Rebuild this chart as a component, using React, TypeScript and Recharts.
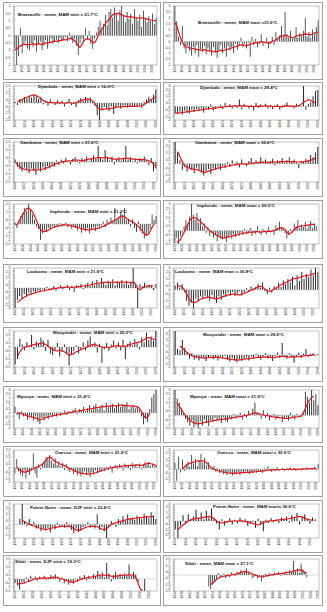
import React from 'react';
import { ComposedChart, Bar, Line, XAxis, YAxis, ReferenceLine, ReferenceArea } from 'recharts';

// ---------- data: anomaly bars and moving average (red) per station ----------
const brazMinStart = 1932;
const brazMinBars = [-0.9,-2.0,-1.4,0.5,-1.2,-0.6,-0.4,-0.9,-1.0,-0.5, -0.8,-0.3,-1.1,-0.6,-0.4,-1.0,-0.7,-0.3,-0.9,-0.5, -0.2,-0.6,-0.4,-0.3,-0.5,-0.2,-0.4,-0.3,-0.1,-0.4, 0.2,-0.3,-0.5,-0.2,-0.7,-1.3,-0.5,-0.2,-0.4,0.5, -0.3,0.3,-0.6,-0.9,-0.2,0.2,0.6,1.0,0.5,0.8, 1.4,0.7,1.6,1.8,1.2,1.9,1.5,1.0,1.7,2.0, 1.3,0.9,1.6,1.1,1.5,0.8,1.8,1.2,1.0,1.4, 0.6,1.7,1.2,0.9,1.3,1.0,1.5,0.8,1.2];
const brazMinAvg = [-1.0,-0.9,-0.8,-0.7,-0.65,-0.6,-0.6,-0.65,-0.6,-0.6, -0.55,-0.6,-0.6,-0.55,-0.6,-0.6,-0.55,-0.5,-0.5,-0.5, -0.45,-0.4,-0.4,-0.4,-0.35,-0.35,-0.3,-0.3,-0.3,-0.25, -0.2,-0.2,-0.25,-0.35,-0.5,-0.7,-0.8,-0.6,-0.4,-0.25, -0.2,-0.25,-0.35,-0.45,-0.5,-0.3,0.0,0.25,0.45,0.6, 0.8,0.95,1.1,1.25,1.4,1.45,1.5,1.5,1.45,1.4, 1.35,1.3,1.3,1.25,1.3,1.25,1.2,1.2,1.2,1.15, 1.2,1.2,1.15,1.1,1.1,1.05,1.05,1.0,1.0];

const brazMaxStart = 1932;
const brazMaxBars = [3.0,1.7,0.4,-0.3,1.3,-0.6,-1.0,-0.4,-0.8,-1.2, -0.5,-1.0,-0.3,-1.3,-0.7,-0.9,-0.4,-1.1,-0.6,-0.8, -1.2,-0.5,-0.9,-1.4,-0.7,-0.3,-1.0,-0.6,-1.3,-0.4, -0.8,-0.5,-1.0,-0.2,-0.7,-0.4,0.3,-0.5,-0.2,-0.6, -0.1,-1.3,0.4,-0.3,0.2,-0.5,-0.2,0.6,-0.4,-0.1, 0.3,-0.6,-0.2,0.4,-0.3,0.8,0.2,0.5,1.3,0.4, 2.5,0.6,0.3,0.9,0.2,0.4,1.2,0.3,0.7,0.5, 0.9,2.0,0.4,0.8,0.3,1.0,0.6,1.2,1.8];
const brazMaxAvg = [1.6,1.3,0.8,0.3,-0.1,-0.3,-0.45,-0.5,-0.55,-0.6, -0.6,-0.65,-0.7,-0.7,-0.75,-0.75,-0.7,-0.75,-0.8,-0.8, -0.85,-0.85,-0.9,-0.85,-0.8,-0.75,-0.8,-0.75,-0.7,-0.65, -0.6,-0.55,-0.5,-0.45,-0.4,-0.35,-0.3,-0.3,-0.35,-0.4, -0.3,-0.25,-0.2,-0.15,-0.1,-0.15,-0.1,0.0,-0.05,-0.1, -0.1,-0.15,-0.1,0.0,0.05,0.15,0.25,0.35,0.5,0.45, 0.55,0.5,0.4,0.35,0.3,0.35,0.45,0.5,0.5,0.55, 0.6,0.65,0.6,0.6,0.55,0.65,0.7,0.75,0.8];

const djaMinStart = 1950;
const djaMinBars = [0.2,-0.3,0.6,0.4,0.9,0.7,1.1,0.8,1.3,1.0, 0.6,0.9,-0.2,0.3,-0.4,0.5,0.1,-0.3,0.4,-0.2, 0.3,-0.5,0.2,0.6,-0.3,0.1,-0.6,0.4,0.7,0.3, 0.9,0.5,0.8,0.2,-0.4,-1.8,-2.5,-1.0,-0.6,-0.9, -1.2,-0.5,-1.6,-0.7,-0.4,-0.8,-0.6,-0.3,-0.7,-0.5, -0.4,-0.6,-0.5,-0.3,-0.7,0.2,0.5,0.9,0.6,1.2, 2.0];
const djaMinAvg = [null,0.2,0.35,0.5,0.7,0.85,1.0,1.1,1.2,1.1, 0.9,0.6,0.35,0.2,0.1,0.05,0.1,0.0,0.05,0.0, 0.05,-0.05,0.0,0.1,0.0,-0.05,0.05,0.2,0.35,0.45, 0.55,0.6,0.5,0.3,-0.1,-0.6,-0.9,-1.0,-0.9,-0.85, -0.9,-0.8,-0.75,-0.6,-0.55,-0.6,-0.55,-0.5,-0.5,-0.5, -0.5,-0.5,-0.45,-0.45,-0.4,-0.2,0.0,0.3,0.5,0.7, 0.9];

const djaMaxStart = 1950;
const djaMaxBars = [-1.0,-1.1,-0.8,-1.2,-0.6,-0.9,-1.0,-0.5,-0.8,-0.4, -0.7,-0.3,-0.9,-0.2,-0.5,0.3,-0.6,-0.3,-0.2,0.2, -0.4,0.5,-0.1,0.3,-0.3,0.2,-0.2,1.0,-0.4,0.4, 0.1,-0.3,0.2,-0.6,0.5,-0.2,0.3,-0.1,0.4,-0.3, 0.2,-0.4,0.1,0.3,-0.5,-0.2,0.2,0.6,-0.1,0.1, -0.3,0.4,0.2,-0.1,3.0,-0.5,0.4,0.6,1.5,2.3, 2.4];
const djaMaxAvg = [-1.0,-1.0,-0.95,-0.9,-0.85,-0.8,-0.75,-0.7,-0.65,-0.6, -0.55,-0.5,-0.45,-0.4,-0.35,-0.3,-0.3,-0.25,-0.2,-0.15, -0.1,-0.05,0.0,0.0,0.05,0.1,0.05,0.15,0.1,0.05, 0.05,0.0,0.0,-0.05,0.0,0.05,0.0,0.05,0.1,0.05, 0.0,-0.05,0.0,0.05,-0.05,0.0,0.05,0.1,0.05,0.05, 0.0,0.05,0.1,0.3,0.6,0.8,1.0,0.9,0.6,0.5, null];

const gamMinStart = 1948;
const gamMinBars = [0.3,-0.6,-0.9,-1.2,-0.7,-1.0,-1.4,-0.8,-1.1,-1.6, -0.9,-1.2,-0.7,-1.0,-0.5,-0.8,-0.3,-0.6,0.2,-0.4, 0.3,-0.2,0.5,0.1,-0.3,0.4,0.6,0.2,-0.2,0.5, 0.3,0.7,0.1,0.5,0.8,0.4,2.0,0.6,0.3,1.5, 0.5,0.2,0.7,-0.3,0.4,0.6,0.2,0.5,2.0,0.3, 0.6,0.1,0.4,-0.2,0.5,0.3,0.7,0.2,-0.4,0.5, -1.2,-0.8];
const gamMinAvg = [0.0,-0.3,-0.6,-0.8,-0.9,-1.0,-1.05,-1.0,-0.95,-1.0, -1.0,-0.95,-0.9,-0.8,-0.7,-0.6,-0.45,-0.3,-0.2,-0.1, 0.0,0.05,0.1,0.1,0.15,0.2,0.25,0.25,0.2,0.15, 0.2,0.3,0.35,0.4,0.45,0.5,0.55,0.55,0.5,0.6, 0.55,0.45,0.4,0.35,0.35,0.4,0.4,0.45,0.5,0.45, 0.4,0.35,0.35,0.3,0.3,0.3,0.3,0.25,0.15,0.0, -0.3,-0.5];

const gamMaxStart = 1949;
const gamMaxBars = [3.0,1.6,0.5,-0.8,-0.4,-1.1,-0.6,-0.9,-1.3,-0.5, -0.8,-1.2,-1.6,-1.0,-0.7,-1.4,-0.6,-0.8,-0.4,-0.9, -0.3,-0.6,0.2,-0.4,0.5,-0.2,0.3,-0.5,0.6,0.1, -0.3,0.4,0.8,-0.1,0.5,0.2,0.9,0.3,0.6,0.1, 0.4,0.7,-0.2,0.5,0.3,0.8,0.2,0.5,0.9,0.3, 0.6,0.2,-0.6,0.4,0.3,0.7,0.5,1.2,0.9,1.6, 2.3];
const gamMaxAvg = [null,1.7,1.0,0.3,-0.3,-0.5,-0.6,-0.7,-0.75,-0.8, -0.9,-1.0,-1.2,-1.15,-1.0,-0.9,-0.8,-0.7,-0.6,-0.5, -0.45,-0.4,-0.3,-0.25,-0.2,-0.15,-0.1,-0.05,0.0,0.0, -0.05,0.0,0.1,0.1,0.15,0.2,0.2,0.25,0.2,0.2, 0.2,0.25,0.2,0.25,0.3,0.3,0.3,0.35,0.3,0.3, 0.3,0.25,0.25,0.3,0.3,0.35,0.4,0.5,0.6,0.8, null];

const impMinStart = 1932;
const impMinBars = [0.2,-0.5,0.4,1.0,1.4,2.0,1.6,2.5,1.8,1.2, 0.5,-0.3,-0.6,-2.0,-1.2,-0.8,-1.0,-0.5,-0.7,-0.3, -0.5,-0.2,-0.4,0.1,-0.3,-0.2,0.2,-0.4,-0.1,-0.6, -0.3,-0.5,-0.8,-0.4,-1.1,-0.6,-0.9,-0.5,-1.2,-0.7, -0.4,-0.9,-0.3,-0.6,-0.2,0.3,-0.4,0.5,0.2,0.8, 0.4,2.0,0.6,0.9,1.5,1.2,2.0,0.5,0.7,-0.3, 0.6,-0.5,-1.0,0.3,-0.8,-1.2,-1.8,-1.5,-1.1,-0.6, 1.2,0.5,1.0];
const impMinAvg = [0.0,-0.1,0.3,0.8,1.2,1.6,1.9,2.0,1.8,1.5, 1.0,0.4,-0.2,-0.7,-0.9,-0.95,-0.9,-0.8,-0.6,-0.5, -0.4,-0.3,-0.25,-0.2,-0.15,-0.1,-0.1,-0.15,-0.2,-0.25, -0.3,-0.35,-0.45,-0.5,-0.6,-0.65,-0.7,-0.7,-0.75,-0.7, -0.65,-0.6,-0.55,-0.5,-0.4,-0.3,-0.2,-0.05,0.1,0.25, 0.35,0.5,0.6,0.8,0.95,1.0,0.9,0.7,0.5,0.35, 0.3,0.1,-0.1,-0.3,-0.6,-0.9,-1.2,-1.4,-1.3,-0.9, -0.4,0.0,null];

const impMaxStart = 1932;
const impMaxBars = [-1.4,-0.8,-1.5,-0.6,-0.3,0.5,1.2,0.8,1.6,3.0, 1.8,1.2,2.0,0.9,1.4,0.5,0.8,-0.3,0.4,-0.6, -0.2,-0.8,-0.5,-1.2,-0.6,-0.9,-1.0,-0.7,-1.3,-0.8, -0.5,-0.9,-0.4,-0.7,-0.3,-0.6,-0.2,-0.5,0.2,-0.4, -0.3,0.3,-0.6,-0.2,-0.4,0.5,-0.3,-0.5,0.2,-0.1, -0.4,0.4,-0.2,0.1,-0.5,0.6,0.3,1.0,0.4,0.2, -0.3,-0.9,-0.5,0.2,-0.2,0.8,0.5,1.2,0.3,0.7, 0.4,1.0,0.2,0.6,1.1,0.3,0.8,0.5,null];
const impMaxAvg = [null,-1.3,-1.2,-1.0,-0.6,-0.2,0.3,0.7,1.1,1.4, 1.5,1.45,1.35,1.2,1.0,0.8,0.6,0.4,0.2,0.0, -0.15,-0.3,-0.45,-0.55,-0.65,-0.75,-0.8,-0.8,-0.75,-0.7, -0.65,-0.6,-0.55,-0.5,-0.45,-0.4,-0.35,-0.3,-0.25,-0.25, -0.2,-0.15,-0.2,-0.15,-0.1,-0.1,-0.15,-0.2,-0.1,-0.1, -0.1,-0.05,-0.1,-0.05,0.0,0.1,0.2,0.3,0.35,0.3, 0.1,-0.2,-0.4,-0.3,-0.1,0.1,0.3,0.45,0.5,0.5, 0.55,0.6,0.6,0.65,0.7,0.7,0.7,null,null];

const loubMinStart = 1947;
const loubMinBars = [-3.0,-1.8,-1.2,-1.6,-0.9,-1.3,-0.7,-1.0,-0.5,-0.8, -0.4,-0.6,-0.2,-0.5,0.2,-0.3,-0.1,0.3,-0.4,0.1, 0.4,-0.2,0.2,0.5,-0.3,0.3,-0.6,0.4,0.1,0.6, -0.2,0.5,0.8,0.3,1.0,0.4,1.2,0.6,1.5,0.9, 0.5,1.1,0.7,1.3,0.4,1.0,0.8,1.2,0.6,1.1, 0.5,0.9,3.0,0.4,-3.0,0.6,0.3,0.8,0.2,0.5, 0.4,-0.3,0.6];
const loubMinAvg = [null,-2.2,-1.9,-1.6,-1.4,-1.2,-1.0,-0.9,-0.8,-0.7, -0.6,-0.5,-0.45,-0.4,-0.3,-0.25,-0.2,-0.1,-0.05,0.0, 0.05,0.05,0.1,0.15,0.1,0.15,0.1,0.15,0.2,0.25, 0.3,0.35,0.4,0.45,0.55,0.6,0.7,0.75,0.8,0.85, 0.85,0.9,0.85,0.9,0.85,0.9,0.85,0.9,0.85,0.9, 0.85,0.8,0.9,0.6,0.0,-0.3,0.0,0.2,0.3,0.35, 0.3,0.3,null];

const loubMaxStart = 1947;
const loubMaxBars = [0.6,1.0,0.3,0.8,-0.3,-1.5,-2.2,-1.8,-2.5,-1.2, -1.6,-0.9,-1.3,-0.8,-1.1,-1.5,-0.7,-1.2,-1.8,-0.9, -1.4,-0.6,-1.0,-0.4,-0.8,-0.3,-0.9,-0.5,-0.2,-0.8, -0.4,0.2,-0.3,0.5,-0.1,0.4,0.8,0.3,1.0,-0.2, -0.6,0.3,-0.4,0.5,0.2,1.0,0.4,1.3,0.8,1.5, 1.0,1.8,0.6,2.0,1.2,2.5,1.5,2.2,1.8,2.8, 2.0,3.0,2.4];
const loubMaxAvg = [null,0.6,0.5,0.4,0.0,-0.6,-1.2,-1.6,-1.8,-1.7, -1.5,-1.3,-1.2,-1.1,-1.0,-1.05,-1.1,-1.2,-1.25,-1.15, -1.0,-0.9,-0.8,-0.7,-0.65,-0.6,-0.6,-0.65,-0.7,-0.6, -0.5,-0.35,-0.2,-0.05,0.1,0.25,0.4,0.5,0.35,0.1, -0.1,-0.2,-0.1,0.1,0.3,0.5,0.7,0.85,1.0,1.15, 1.3,1.45,1.55,1.6,1.7,1.8,1.9,1.95,2.0,2.1, 2.2,2.3,null];

const mouMinStart = 1949;
const mouMinBars = [-2.2,-1.5,1.0,0.3,-0.4,0.6,0.2,1.5,-0.3,0.7, 0.4,1.2,0.8,-0.5,0.9,-0.8,-1.0,-0.4,0.5,-1.2, -0.6,0.3,-0.9,-2.3,-1.0,-0.5,0.2,-0.8,-0.3,0.6, -0.4,0.8,1.3,0.2,0.6,-0.7,0.4,-2.0,-0.3,0.5, -0.5,0.3,0.8,-0.2,0.6,-0.4,0.9,-1.5,0.4,0.7, 0.2,1.0,0.5,-0.3,1.2,0.6,1.8,0.9,1.3,0.8, 2.0];
const mouMinAvg = [null,-1.2,-0.6,-0.2,0.0,0.05,0.1,0.2,0.3,0.35, 0.4,0.5,0.45,0.3,0.1,-0.1,-0.3,-0.45,-0.5,-0.4, -0.5,-0.6,-0.8,-1.0,-0.95,-0.8,-0.6,-0.5,-0.35,-0.2, -0.1,0.05,0.2,0.3,0.3,0.2,0.1,0.0,-0.05,0.0, -0.1,0.0,0.1,0.15,0.2,0.1,0.05,0.1,0.2,0.3, 0.4,0.5,0.55,0.6,0.75,0.9,1.1,1.2,1.1,1.0, 0.9];

const mouMaxStart = 1948;
const mouMaxBars = [4.0,1.0,0.8,2.5,1.2,0.5,-0.6,0.3,-0.8,-0.4, -0.9,-0.3,-0.6,-1.0,-0.5,-0.2,-0.7,-0.4,-0.9,-0.3, -0.6,-0.2,-0.8,-1.1,-0.5,-0.9,-1.2,-0.7,-1.0,-0.6, -0.4,-0.9,-0.3,-0.6,0.2,-0.5,-0.8,-0.3,0.3,-0.6, -0.4,-1.0,-0.2,0.4,-0.5,2.0,-0.3,-0.6,0.3,-0.4, -1.3,-0.2,0.4,-0.5,0.2,1.0,-0.3,0.2,0.3,-0.1, 0.2];
const mouMaxAvg = [null,null,1.5,1.2,0.8,0.4,0.1,-0.1,-0.25,-0.35, -0.4,-0.45,-0.5,-0.5,-0.45,-0.4,-0.4,-0.35,-0.4,-0.45, -0.5,-0.55,-0.6,-0.7,-0.75,-0.8,-0.85,-0.8,-0.75,-0.7, -0.65,-0.6,-0.55,-0.5,-0.45,-0.4,-0.4,-0.35,-0.3,-0.35, -0.4,-0.45,-0.4,-0.3,-0.25,-0.2,-0.25,-0.3,-0.35,-0.3, -0.3,-0.3,-0.25,-0.2,-0.15,-0.1,-0.1,-0.05,0.0,0.0, null];

const mpoMinStart = 1941;
const mpoMinBars = [0.8,-0.3,-0.8,0.2,-0.5,-0.2,-0.9,-0.4,-0.6,-1.0, -0.5,-1.2,-1.5,-0.7,-1.0,-0.4,-0.8,-0.3,-0.6,-0.2, -0.5,0.1,-0.4,-0.2,0.3,-0.3,0.2,-0.1,0.4,0.6, -0.2,0.5,0.3,0.8,0.2,0.6,1.0,0.4,0.9,1.2, 0.5,0.8,1.1,0.3,1.3,0.7,0.9,1.2,0.6,1.0, 1.3,0.8,1.1,0.9,1.4,0.5,0.8,1.0,0.6,0.9, 0.4,-0.5,-1.5,-0.8,-1.2,0.5,2.0,2.5,3.0];
const mpoMinAvg = [null,0.0,-0.05,-0.1,-0.2,-0.3,-0.4,-0.5,-0.55,-0.6, -0.7,-0.8,-0.9,-0.85,-0.75,-0.6,-0.5,-0.45,-0.4,-0.35, -0.3,-0.25,-0.2,-0.15,-0.1,-0.05,0.0,0.05,0.1,0.15, 0.2,0.25,0.3,0.35,0.4,0.45,0.5,0.55,0.6,0.65, 0.7,0.75,0.8,0.8,0.85,0.85,0.9,0.9,0.9,0.95, 0.95,1.0,1.0,0.95,0.95,0.9,0.9,0.9,0.85,0.8, 0.6,0.2,-0.3,-0.7,-0.6,0.0,null,null,null];

const mpoMaxStart = 1941;
const mpoMaxBars = [3.0,2.0,1.5,0.8,0.3,-0.4,-0.8,-1.2,-0.6,-1.4, -1.0,-1.5,-0.7,-1.2,-0.5,-0.9,-1.3,-0.6,-0.8,-0.3, -0.7,-0.4,-0.9,-0.2,-0.6,-0.8,-0.3,-0.5,0.2,-0.4, -0.2,0.3,-0.5,0.2,-0.3,0.5,0.1,0.8,1.5,0.4, 0.2,-0.4,0.6,-0.3,0.3,-0.6,-0.2,0.2,-0.5,-0.3, 0.1,-0.8,-0.4,-0.2,-0.6,0.3,-0.3,-0.5,0.2,-0.2, 0.1,0.5,2.8,2.2,1.5,3.0,1.8,2.5,1.2];
const mpoMaxAvg = [null,1.5,1.1,0.7,0.3,0.0,-0.3,-0.55,-0.75,-0.9, -1.0,-1.0,-0.95,-0.9,-0.85,-0.8,-0.75,-0.7,-0.65,-0.6, -0.55,-0.5,-0.5,-0.45,-0.45,-0.4,-0.35,-0.3,-0.25,-0.2, -0.2,-0.15,-0.1,-0.05,0.0,0.05,0.15,0.25,0.3,0.25, 0.2,0.1,0.05,0.0,-0.05,-0.1,-0.15,-0.2,-0.25,-0.25, -0.3,-0.3,-0.35,-0.35,-0.3,-0.3,-0.25,-0.2,-0.2,-0.15, -0.1,0.2,0.8,1.4,1.8,2.1,2.3,null,null];

const oueMinStart = 1932;
const oueMinBars = [-0.8,1.2,-0.5,-0.9,-1.2,-0.4,-1.5,-0.6,-1.0,-0.3, 2.0,-0.8,-1.4,0.5,-0.2,0.6,0.8,1.5,1.2,1.8, 1.0,0.6,1.3,0.4,0.9,0.2,0.7,-0.3,0.5,-0.4, -0.6,-0.2,-0.9,-0.5,-1.1,-0.7,-1.2,-0.8,-0.5,-1.0, -0.7,-1.3,-0.6,-0.9,-0.4,-0.8,-0.3,-0.6,-0.2,-0.5, 0.1,-0.3,0.3,-0.7,0.2,0.4,-0.2,0.5,0.3,-0.4, 0.6,0.2,0.4,-0.3,0.7,0.3,0.5,0.1,0.6,-0.2, 0.4,0.9,0.5,0.8,0.3,0.6,0.2,0.4];
const oueMinAvg = [null,0.0,-0.2,-0.4,-0.5,-0.6,-0.6,-0.5,-0.4,-0.3, -0.15,0.0,0.1,0.2,0.35,0.5,0.8,1.1,1.4,1.5, 1.35,1.1,0.9,0.75,0.6,0.5,0.4,0.3,0.2,0.05, -0.1,-0.25,-0.4,-0.5,-0.6,-0.7,-0.75,-0.8,-0.85,-0.85, -0.9,-0.85,-0.8,-0.75,-0.7,-0.6,-0.5,-0.4,-0.35,-0.25, -0.15,-0.1,0.0,0.0,0.05,0.1,0.15,0.2,0.2,0.25, 0.3,0.3,0.3,0.35,0.35,0.35,0.4,0.4,0.35,0.35, 0.4,0.5,0.6,0.65,0.6,0.5,0.4,0.3];

const oueMaxStart = 1932;
const oueMaxBars = [1.0,-1.8,2.0,-0.5,1.5,-0.3,0.8,1.2,0.4,2.2, 0.9,1.6,0.5,1.3,2.4,1.0,1.8,0.6,1.1,0.3, -0.2,0.5,-0.4,0.2,-0.6,-0.3,-0.8,-0.5,-0.9,-0.4, -0.7,-1.0,-0.6,-0.8,-0.5,-0.9,-0.4,-0.7,-0.3,-0.6, -0.8,-0.4,-0.6,-0.3,-0.5,-0.2,-0.4,-0.6,0.2,-0.3, 0.5,-0.2,-0.4,0.1,-0.3,0.3,-0.2,-0.1,0.2,-0.3, 0.1,-0.2,0.3,-0.1,0.2,-0.3,0.1,0.0,-0.2,0.2, 0.0,0.3,-0.1,0.2,0.1,0.4,-0.2,0.8];
const oueMaxAvg = [null,null,null,null,0.0,0.3,0.6,0.8,0.9,1.0, 1.1,1.2,1.25,1.3,1.3,1.3,1.2,1.0,0.7,0.4, 0.2,0.0,-0.1,-0.2,-0.3,-0.4,-0.45,-0.5,-0.55,-0.6, -0.6,-0.65,-0.65,-0.6,-0.6,-0.55,-0.55,-0.5,-0.5,-0.5, -0.5,-0.45,-0.45,-0.4,-0.4,-0.35,-0.3,-0.3,-0.25,-0.2, -0.15,-0.15,-0.1,-0.1,-0.1,-0.05,-0.1,-0.05,-0.05,-0.05, -0.05,0.0,0.0,-0.05,0.0,0.0,-0.05,0.0,0.0,0.0, 0.05,0.05,0.05,0.1,0.1,0.1,0.15,null];

const pnMinStart = 1950;
const pnMinBars = [null,null,0.8,3.0,0.5,-0.3,0.8,-0.2,0.4,-0.6, -0.4,-1.0,-0.6,-0.9,-0.5,-1.2,-0.3,-0.7,0.2,-0.4, -0.2,-0.5,0.3,-0.3,-0.8,-1.3,-0.6,-1.1,-0.9,-0.4, -0.2,0.3,-0.5,-0.1,-0.6,1.5,-0.8,-0.4,-1.0,-2.2, -0.3,0.5,0.2,-0.4,0.8,0.4,1.2,0.6,1.5,0.9, 1.0,0.7,1.3,1.1,0.8,1.6,1.2,0.9,1.8,1.3, 0.8];
const pnMinAvg = [null,null,null,0.6,0.4,0.2,0.0,-0.1,-0.2,-0.35, -0.5,-0.6,-0.7,-0.75,-0.7,-0.6,-0.5,-0.45,-0.4,-0.35, -0.3,-0.3,-0.25,-0.3,-0.4,-0.6,-0.8,-0.9,-0.8,-0.6, -0.45,-0.35,-0.3,-0.25,-0.3,-0.35,-0.5,-0.7,-0.8,-0.6, -0.3,0.0,0.15,0.25,0.35,0.45,0.55,0.65,0.75,0.8, 0.85,0.9,0.95,1.0,1.0,1.05,1.1,1.1,1.15,1.2, null];

const pnMaxStart = 1950;
const pnMaxBars = [-1.5,-3.0,-0.8,1.0,-0.5,1.2,0.3,0.8,2.0,0.5, 1.5,0.3,1.8,0.6,2.2,0.4,-0.5,-1.5,0.3,-0.8, -0.3,0.5,-0.6,0.2,-0.4,0.6,-0.2,0.3,-0.9,-0.5, -0.2,-1.2,0.4,-0.6,-1.8,0.2,-0.3,0.5,-0.2,0.3, -0.4,0.6,0.2,0.8,-0.3,1.0,0.5,1.4,-0.6,0.9, 1.2,0.4,-0.5,0.6,0.3,null];
const pnMaxAvg = [null,-1.5,-1.1,-0.7,-0.35,0.0,0.2,0.35,0.45,0.5, 0.55,0.65,0.75,0.8,0.7,0.4,0.0,-0.3,-0.35,-0.25, -0.15,-0.05,0.0,0.0,0.0,0.05,0.0,-0.1,-0.2,-0.3, -0.45,-0.6,-0.7,-0.5,-0.3,-0.15,0.0,0.0,0.05,0.1, 0.2,0.25,0.3,0.35,0.4,0.5,0.6,0.75,0.8,0.7, 0.5,0.3,0.2,0.15,null,null];

const sibMinStart = 1950;
const sibMinBars = [-0.5,-0.8,-1.3,-0.4,-0.6,0.2,-0.3,0.4,0.1,0.3, -0.2,0.3,0.1,0.4,-0.1,0.2,0.5,0.3,0.6,0.1, -0.3,0.2,-0.5,-0.2,-0.7,-0.4,-0.6,0.1,-0.3,0.3, 0.2,0.5,-0.2,0.4,0.1,0.6,0.3,1.0,0.5,0.8, 0.2,2.0,0.7,-0.3,0.5,0.9,0.4,0.6,0.3,0.7, 0.5,1.8,0.4,0.9,0.6,-0.4,null,null,-1.5,null, null,null,null,null];
const sibMinAvg = [null,-0.6,-0.6,-0.55,-0.5,-0.4,-0.3,-0.2,-0.1,0.0, 0.05,0.1,0.1,0.15,0.1,0.1,0.15,0.2,0.25,0.2, 0.1,0.0,-0.1,-0.2,-0.3,-0.4,-0.4,-0.3,-0.2,-0.1, 0.0,0.1,0.15,0.2,0.25,0.3,0.35,0.45,0.5,0.5, 0.45,0.5,0.45,0.35,0.3,0.35,0.4,0.45,0.45,0.5, 0.5,0.55,0.5,0.45,0.2,-0.5,-1.2,-1.5,null,null, null,null,null,null];

const sibMaxStart = 1934;
const sibMaxBars = [null,null,null,null,null,null,null,null,null,null,null,null,null,null,null,null,null,null, -1.8,-2.2,-1.5,-1.0,-0.6,0.3,-0.4,-0.2,0.2,-0.5, 0.1,-0.3,0.4,0.2,-0.2,0.5,0.3,0.8,0.4,0.6, 1.0,0.3,0.2,-0.5,-0.3,0.1,-0.6,-0.2,-1.0,-0.4, 0.2,-0.3,0.3,0.1,-0.2,0.4,0.2,0.5,-0.1,0.3, 0.4,0.6,0.2,0.8,0.5,2.2,0.6,1.0,0.4,1.8, 0.9,0.5,-0.4,null,null,null,null,null,null];
const sibMaxAvg = [null,null,null,null,null,null,null,null,null,null,null,null,null,null,null,null,null,null,null, -1.5,-1.3,-1.0,-0.7,-0.5,-0.35,-0.25,-0.2,-0.15,-0.1, -0.05,0.0,0.05,0.1,0.2,0.3,0.4,0.5,0.55,0.5, 0.45,0.35,0.2,0.05,-0.05,-0.15,-0.25,-0.3,-0.25,-0.15, -0.1,-0.05,0.0,0.05,0.1,0.15,0.2,0.2,0.25,0.3, 0.35,0.4,0.45,0.5,0.6,0.7,0.75,0.8,0.75,0.6, 0.4,0.3,null,null,null,null,null,null];

// y-axis tick labels
const ticksM2to2 = [-2,-1.5,-1,-0.5,0,0.5,1,1.5,2];
const ticksM2to3 = [-2,-1.5,-1,-0.5,0,0.5,1,1.5,2,2.5,3];
const ticksM25to25 = [-2.5,-2,-1.5,-1,-0.5,0,0.5,1,1.5,2,2.5];
const ticksM25to3 = [-2.5,-2,-1.5,-1,-0.5,0,0.5,1,1.5,2,2.5,3];
const ticksM15to3 = [-1.5,-1,-0.5,0,0.5,1,1.5,2,2.5,3];
const ticksM3to3 = [-3,-2.5,-2,-1.5,-1,-0.5,0,0.5,1,1.5,2,2.5,3];
const ticksM25to2 = [-2.5,-2,-1.5,-1,-0.5,0,0.5,1,1.5,2];
const ticksM2to4 = [-2,-1.5,-1,-0.5,0,0.5,1,1.5,2,2.5,3,3.5,4];
const ticksM2to25 = [-2,-1.5,-1,-0.5,0,0.5,1,1.5,2,2.5];
const ticksM15to25 = [-1.5,-1,-0.5,0,0.5,1,1.5,2,2.5];

type Panel = {
  title: string; start: number; bars: (number | null)[]; avg: (number | null)[];
  ticks: number[]; left: number; top: number; w: number; h: number; tx: number; ty: number;
};

const ROWS: [number, number][] = [[2,80],[82,135],[138,197],[200,259],[264,323],[327,382],[386,443],[446,497],[500,553],[555,606]];
const LX = 3, LW = 158, RX = 163, RW = 160;

const mk = (row: number, right: boolean, title: string, start: number, bars: (number|null)[], avg: (number|null)[], ticks: number[], tx: number, ty: number): Panel => ({
  title, start, bars, avg, ticks,
  left: right ? RX : LX, top: ROWS[row][0], w: right ? RW : LW, h: ROWS[row][1] - ROWS[row][0], tx, ty,
});

const PANELS: Panel[] = [
  mk(0,false,'Brazzaville : mean_MAM mini = 21.7°C',brazMinStart,brazMinBars,brazMinAvg,ticksM2to2,18,15),
  mk(0,true,'Brazzaville : mean_MAM maxi =31.6°C',brazMaxStart,brazMaxBars,brazMaxAvg,ticksM2to3,198,23),
  mk(1,false,'Djambala : mean_MAM mini = 16.0°C',djaMinStart,djaMinBars,djaMinAvg,ticksM25to25,38,87),
  mk(1,true,'Djambala  : mean_MAM maxi = 28.4°C',djaMaxStart,djaMaxBars,djaMaxAvg,ticksM2to3,200,88),
  mk(2,false,'Gamboma : mean_MAM mini = 21.6°C',gamMinStart,gamMinBars,gamMinAvg,ticksM25to25,20,143),
  mk(2,true,'Gamboma  : mean_MAM maxi = 30.6°C',gamMaxStart,gamMaxBars,gamMaxAvg,ticksM25to3,195,143),
  mk(3,false,'Impfondo : mean_MAM mini = 21.3°C',impMinStart,impMinBars,impMinAvg,ticksM25to25,50,212),
  mk(3,true,'Impfondo : mean_MAM maxi = 29.5°C',impMaxStart,impMaxBars,impMaxAvg,ticksM15to3,197,206),
  mk(4,false,'Loubomo  : mean_MAM mini = 21.6°C',loubMinStart,loubMinBars,loubMinAvg,ticksM3to3,27,272),
  mk(4,true,'Loubomo  : mean_MAM maxi = 30.8°C',loubMaxStart,loubMaxBars,loubMaxAvg,ticksM25to3,175,272),
  mk(5,false,'Mouyondzi  : mean_MAM mini = 20.3°C',mouMinStart,mouMinBars,mouMinAvg,ticksM25to2,53,333),
  mk(5,true,'Mouyondzi  : mean_MAM maxi = 29.5°C',mouMaxStart,mouMaxBars,mouMaxAvg,ticksM2to4,203,335),
  mk(6,false,'Mpouya : mean_MAM mini = 21.4°C',mpoMinStart,mpoMinBars,mpoMinAvg,ticksM2to3,17,397),
  mk(6,true,'Mpouya  : mean_MAM maxi = 31.9°C',mpoMaxStart,mpoMaxBars,mpoMaxAvg,ticksM15to3,190,397),
  mk(7,false,'Ouesso : mean_MAM mini = 21.0°C',oueMinStart,oueMinBars,oueMinAvg,ticksM2to25,55,453),
  mk(7,true,'Ouesso : mean_MAM maxi = 32.0°C',oueMaxStart,oueMaxBars,oueMaxAvg,ticksM2to3,217,453),
  mk(8,false,'Pointe-Noire : mean_DJF mini = 23.4°C',pnMinStart,pnMinBars,pnMinAvg,ticksM2to3,30,508),
  mk(8,true,'Pointe-Noire : mean_MAM maxi= 30.6°C',pnMaxStart,pnMaxBars,pnMaxAvg,ticksM3to3,213,507),
  mk(9,false,'Sibiti : mean_DJF mini = 19.3°C',sibMinStart,sibMinBars,sibMinAvg,ticksM15to25,15,562),
  mk(9,true,'Sibiti : mean_MAM maxi = 27.1°C',sibMaxStart,sibMaxBars,sibMaxAvg,ticksM25to25,185,564),
];

const FONT = '"Liberation Sans", Arial, sans-serif';

const XTick = (props: any) => {
  const { x, y, payload } = props;
  const yy = y - 1;
  return (
    <text x={x} y={yy} transform={`rotate(-90 ${x} ${yy})`} textAnchor="end" dominantBaseline="central" fontSize={3.5} fill="#333" fontFamily={FONT}>
      {payload.value}
    </text>
  );
};

const ChartPanel = ({ p }: { p: Panel }) => {
  const n = Math.max(p.bars.length, p.avg.length);
  const data = Array.from({ length: n }, (_, i) => ({ year: p.start + i, v: p.bars[i] ?? null, m: p.avg[i] ?? null }));
  const lo = p.ticks[0], hi = p.ticks[p.ticks.length - 1];
  return (
    <div style={{ position: 'absolute', left: p.left, top: p.top, width: p.w, height: p.h, border: '1px solid #a0a0a0', boxSizing: 'border-box', background: '#fff' }}>
      <ComposedChart width={p.w - 2} height={p.h - 2} data={data} margin={{ top: 3, right: 3, bottom: 1, left: 0 }} barCategoryGap="30%">
        <XAxis dataKey="year" interval={3} tick={<XTick />} height={13} tickLine={false} tickSize={1} tickMargin={0} axisLine={false} />
        <YAxis type="number" domain={[lo, hi]} ticks={p.ticks} allowDataOverflow width={10} interval={0}
          tick={{ fontSize: 3.4, fill: '#333', fontFamily: FONT }} tickLine={{ stroke: '#777', strokeWidth: 0.4 }} tickSize={1.5}
          axisLine={{ stroke: '#777', strokeWidth: 0.5 }} />
        <ReferenceArea y1={lo} y2={hi} fill="none" stroke="#9a9a9a" strokeWidth={0.6} />
        <ReferenceLine y={0} stroke="#888" strokeWidth={0.5} strokeDasharray="1.5 1" />
        <Bar dataKey="v" fill="#1c1c1c" isAnimationActive={false} />
        <Line dataKey="m" stroke="#e3161d" strokeWidth={1.2} dot={false} isAnimationActive={false} connectNulls={false} type="linear" />
      </ComposedChart>
      <div style={{ position: 'absolute', left: p.tx - p.left - 1, top: p.ty - p.top - 4, fontFamily: FONT, fontWeight: 700, fontSize: 4.4, lineHeight: '6px', whiteSpace: 'nowrap', color: '#111' }}>
        {p.title}
      </div>
    </div>
  );
};

export default function App() {
  return (
    <div style={{ position: 'absolute', left: 0, top: 0, width: 327, height: 612, background: '#fff', overflow: 'hidden' }}>
      {PANELS.map((p, i) => <ChartPanel key={i} p={p} />)}
    </div>
  );
}
